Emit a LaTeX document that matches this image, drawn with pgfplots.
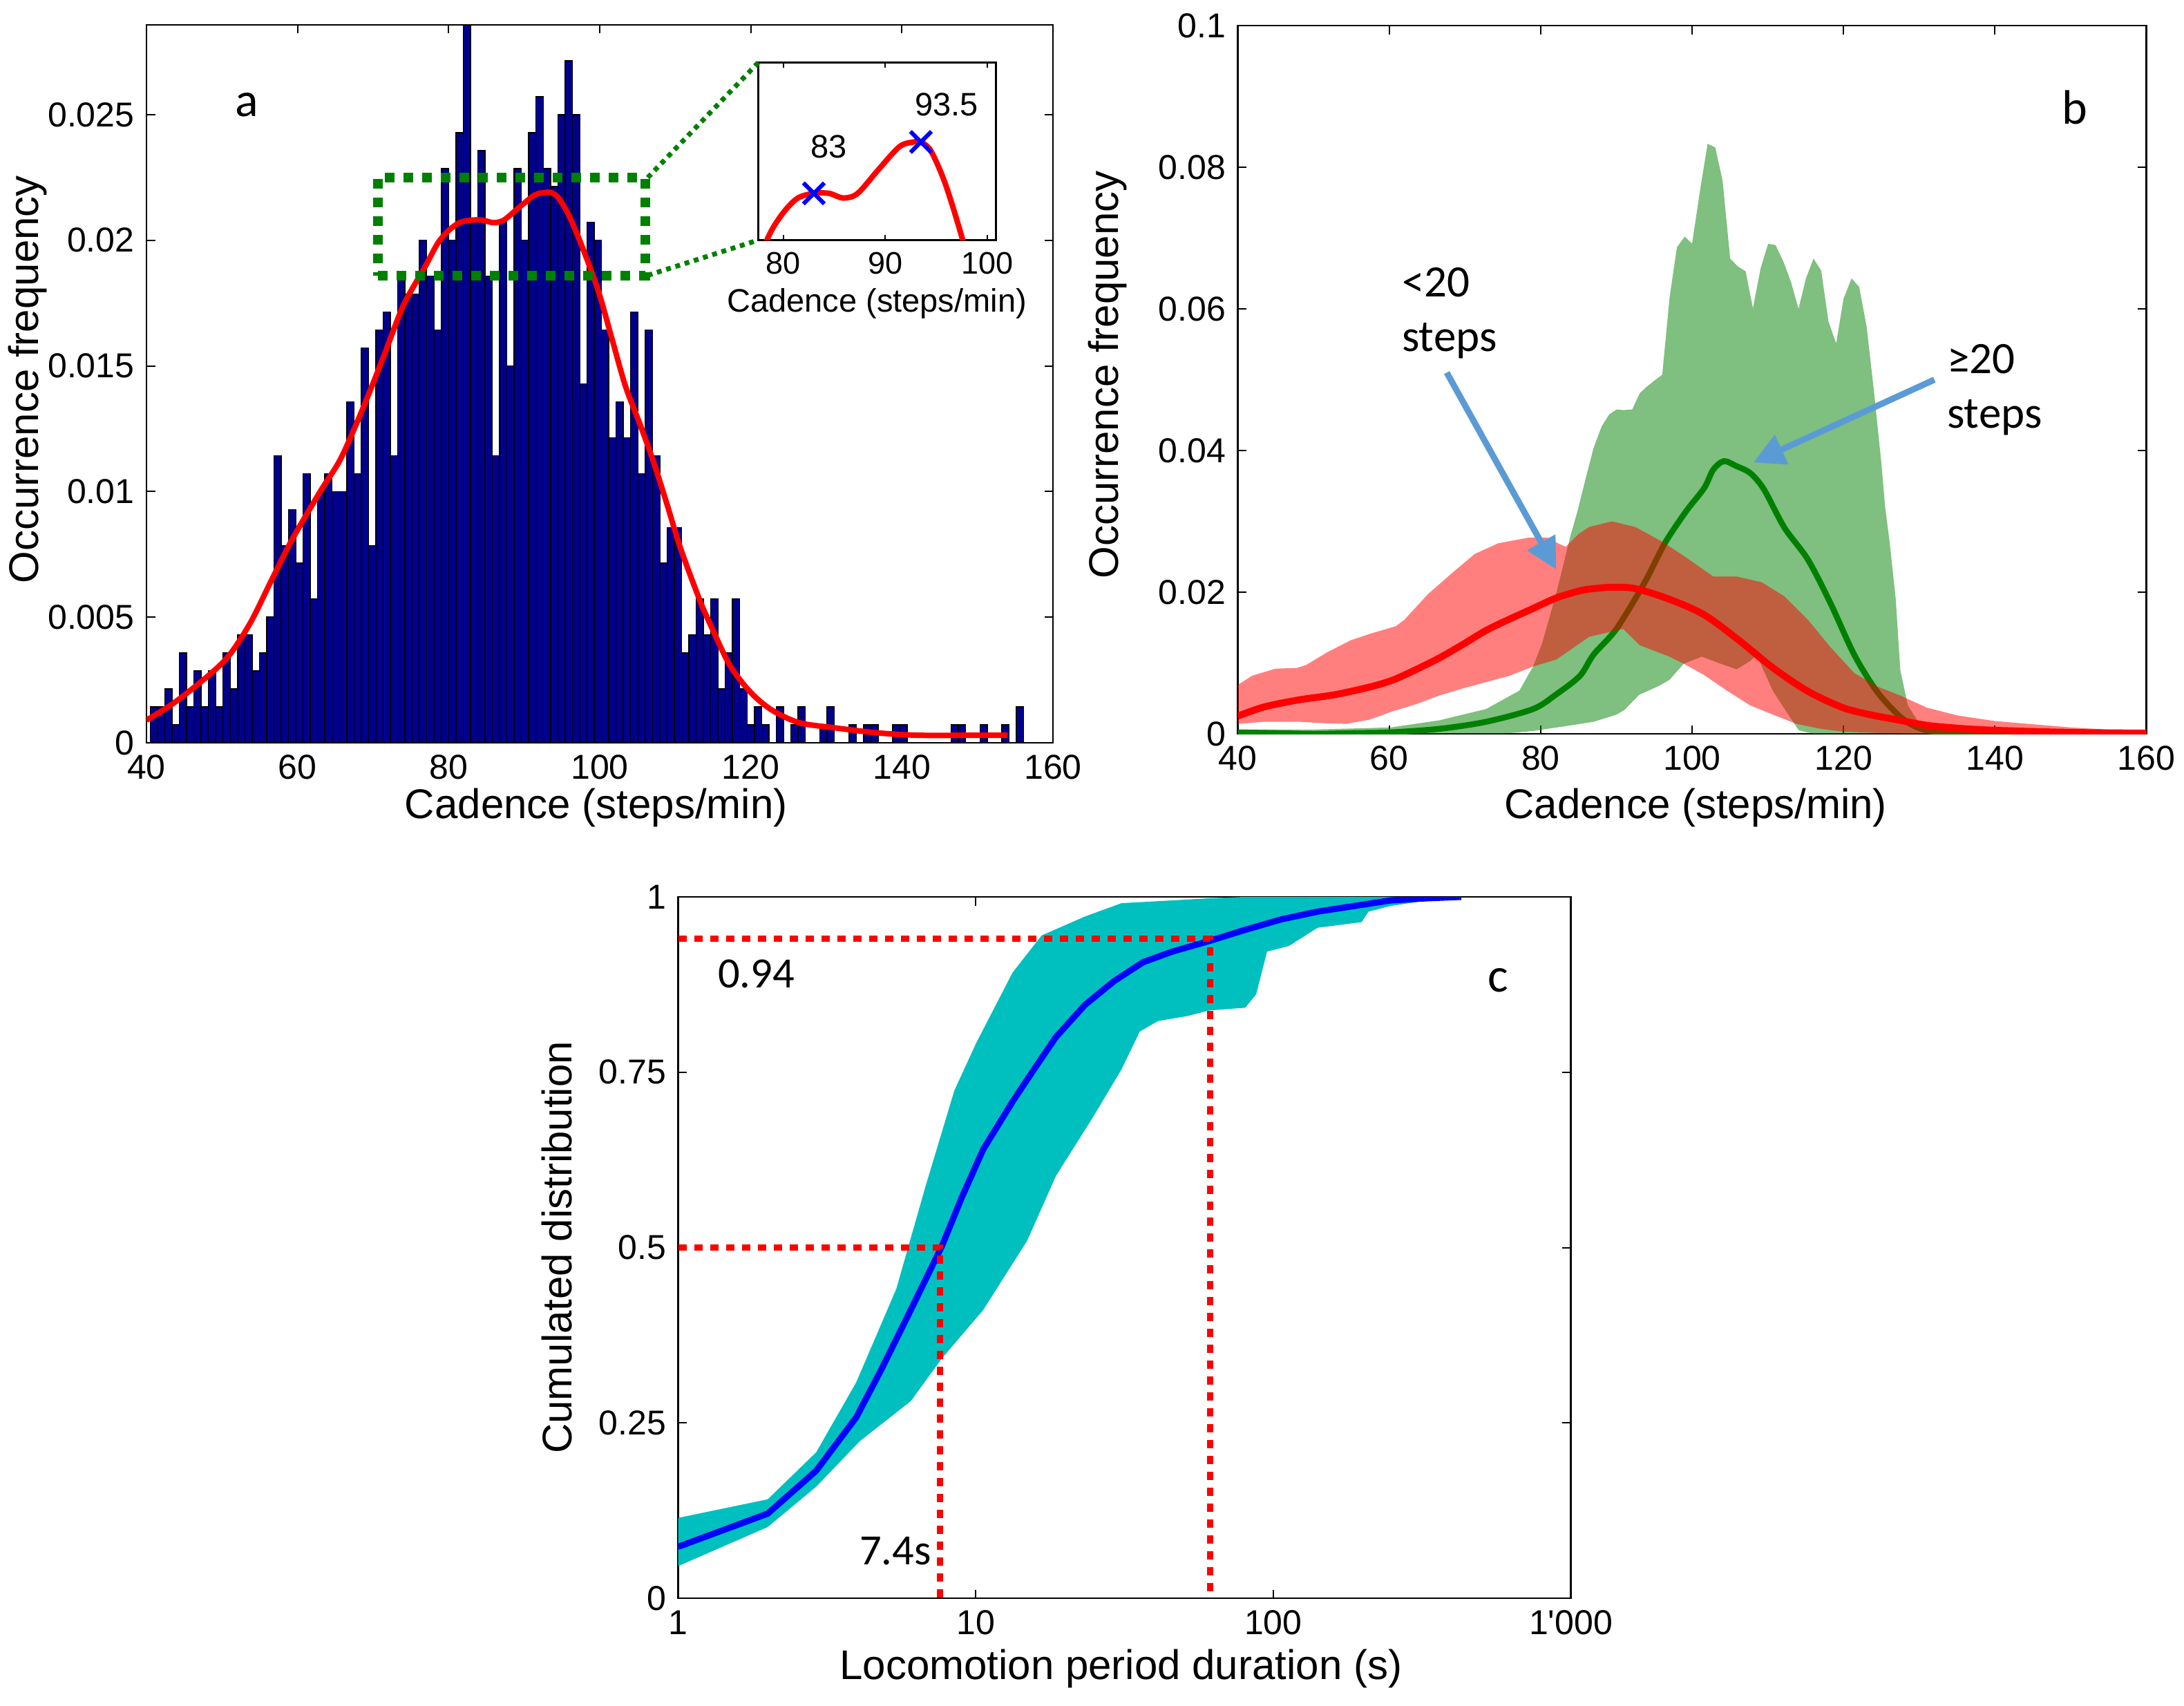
\documentclass[border=0pt]{standalone}
\usepackage{fontspec}
\setmainfont{Liberation Sans}
\newfontfamily\calfont{Carlito}
\usepackage{pgfplots}
\pgfplotsset{compat=1.18}
\usetikzlibrary{arrows.meta}
\definecolor{hbar}{RGB}{0,0,140}
\definecolor{mgreen}{RGB}{0,128,0}
\definecolor{arrowblue}{RGB}{91,155,213}
\definecolor{cyanband}{RGB}{0,191,191}
\pgfplotsset{mat/.style={scale only axis, anchor=south west, tick align=inside,
  scaled x ticks=false, scaled y ticks=false,
  major tick length=2.5pt, minor tick length=1.5pt,
  axis line style={black, line width=0.5pt},
  every tick/.append style={black, line width=0.4pt},
  tick label style={font=\fontsize{10}{12}\selectfont},
  label style={font=\fontsize{12}{14}\selectfont}}}
\begin{document}
\begin{tikzpicture}
\path[use as bounding box] (0,0) rectangle (632.2pt,493.6pt);

% ---------------- panel a ----------------
\begin{axis}[mat, at={(42.4pt,278.6pt)}, width=262.4pt, height=207.8pt,
  xmin=40, xmax=160, ymin=0, ymax=0.028571,
  xtick={40,60,80,100,120,140,160}, xticklabels={40,60,80,100,120,140,160},
  ytick={0,0.005,0.01,0.015,0.02,0.025}, yticklabels={0,0.005,0.01,0.015,0.02,0.025},
  xlabel={Cadence (steps/min)}, ylabel={Occurrence frequency},
  xlabel style={at={(axis description cs:0.496,-0.0905)},anchor=center},
  ylabel style={at={(axis description cs:-0.131,0.506)},anchor=center}]
\addplot[ybar interval, fill=hbar, draw=black, line width=0.3pt] coordinates {
(40.490,0.001429)(41.454,0.001429)(42.417,0.002143)(43.381,0.000714)(44.344,0.003571)
(45.308,0.001429)(46.272,0.002857)(47.235,0.001429)(48.199,0.002857)(49.162,0.001429)
(50.126,0.003571)(51.090,0.002143)(52.053,0.004286)(53.017,0.004286)(53.980,0.002857)
(54.944,0.003571)(55.908,0.005)(56.871,0.011429)(57.835,0.007857)(58.798,0.009286)
(59.762,0.007143)(60.726,0.010714)(61.689,0.005714)(62.653,0.01)(63.616,0.010714)
(64.580,0.01)(65.544,0.01)(66.507,0.013571)(67.471,0.010714)(68.434,0.015714)
(69.398,0.007857)(70.362,0.016429)(71.325,0.017143)(72.289,0.011429)(73.252,0.018571)
(74.216,0.017857)(75.180,0.017857)(76.143,0.02)(77.107,0.018571)(78.070,0.016429)
(79.034,0.022857)(79.998,0.02)(80.961,0.024286)(81.925,0.028571)(82.888,0.020714)
(83.852,0.023571)(84.816,0.018571)(85.779,0.011429)(86.743,0.020714)(87.706,0.015)
(88.670,0.022857)(89.634,0.02)(90.597,0.024286)(91.561,0.025714)(92.524,0.022857)
(93.488,0.022143)(94.452,0.025)(95.415,0.027143)(96.379,0.025)(97.342,0.014286)
(98.306,0.020714)(99.270,0.02)(100.233,0.016429)(101.197,0.012143)(102.160,0.013571)
(103.124,0.012143)(104.088,0.017143)(105.051,0.010714)(106.015,0.016429)(106.978,0.011429)
(107.942,0.007143)(108.906,0.008571)(109.869,0.008571)(110.833,0.003571)(111.796,0.004286)
(112.760,0.005714)(113.724,0.004286)(114.687,0.005714)(115.651,0.002143)(116.614,0.003571)
(117.578,0.005714)(118.542,0.002143)(119.505,0.000714)(120.469,0.001429)(121.432,0.000714)
(122.396,0)(123.360,0.001429)(124.323,0)(125.287,0.000714)(126.250,0.001429)
(127.214,0)(128.178,0)(129.141,0.000714)(130.105,0.001429)(131.068,0)
(132.032,0)(132.996,0.000714)(133.959,0)(134.923,0.000714)(135.886,0.000714)
(136.850,0)(137.814,0)(138.777,0.000714)(139.741,0.000714)(140.704,0)
(141.668,0)(142.632,0)(143.595,0)(144.559,0)(145.522,0)
(146.486,0.000714)(147.450,0.000714)(148.413,0)(149.377,0)(150.340,0.000714)
(151.304,0)(152.268,0)(153.231,0.000714)(154.195,0)(155.158,0.001429)(156.122,0)};
\addplot[red, line width=1.6pt, smooth] coordinates {
(40,0.0009)(43.7,0.0016)(48.3,0.0027)(51,0.0035)(53.8,0.0048)(56.6,0.0065)(59.3,0.0081)
(63,0.0100)(65.7,0.0113)(68.5,0.0132)(71.3,0.0153)(74,0.0174)(76.8,0.0189)(78.6,0.0199)
(80.05,0.0204)(81.43,0.0207)(83,0.0208)(84.5,0.0208)(85.9,0.0207)(87.3,0.0208)(89.3,0.0213)
(91.4,0.0218)(92.8,0.0219)(93.5,0.0219)(94.5,0.0217)(95.9,0.0210)(97.6,0.0198)(99.8,0.0180)
(101.6,0.0161)(103.4,0.0142)(105.3,0.0127)(107.1,0.0112)(108.9,0.0095)(110.3,0.0081)
(111.7,0.0069)(113.6,0.0054)(114.5,0.0048)(117.2,0.0031)(120,0.0020)(122.8,0.0013)
(126.4,0.0008)(131,0.0006)(136.6,0.0004)(142.1,0.0003)(149.4,0.0003)(154,0.0003)};
\addplot[mgreen, line width=2.8pt, dash pattern=on 2.8pt off 2.6pt] coordinates {
(70.6,0.0186)(106,0.0186)(106,0.0225)(70.6,0.0225)(70.6,0.0186)};
\node[font=\calfont\fontsize{14}{16}\selectfont] at (axis cs:53.3,0.0254) {a};
\end{axis}

% ---------------- inset ----------------
\begin{axis}[mat, at={(219.5pt,424.1pt)}, width=68.8pt, height=51.4pt,
  xmin=77.55, xmax=100.86, ymin=0.0198, ymax=0.0236,
  xtick={80,90,100}, xticklabels={80,90,100}, ytick=\empty,
  major tick length=1.5pt,
  tick label style={font=\fontsize{9}{11}\selectfont},
  xlabel={Cadence (steps/min)},
  xlabel style={font=\fontsize{9.4}{11}\selectfont, at={(axis description cs:0.499,-0.356)}, anchor=center},
  axis background/.style={fill=white}]
\addplot[red, line width=1.6pt, smooth] coordinates {
(76.8,0.0189)(78.6,0.0199)(80.05,0.0204)(81.43,0.0207)(83,0.0208)(84.5,0.0208)(85.9,0.0207)
(87.3,0.0208)(89.3,0.0213)(91.4,0.0218)(92.8,0.0219)(93.5,0.0219)(94.5,0.0217)(95.9,0.0210)
(97.6,0.0198)(99.8,0.0180)};
\addplot[only marks, mark=x, blue, mark size=4.3pt, line width=1.2pt] coordinates {(83,0.0208)(93.5,0.0219)};
\node[font=\fontsize{9.4}{11}\selectfont] at (axis cs:84.45,0.0218) {83};
\node[font=\fontsize{9.4}{11}\selectfont] at (axis cs:96,0.0227) {93.5};
\end{axis}
\draw[mgreen, line width=1.4pt, dash pattern=on 1.4pt off 1.4pt] (187.5pt,442.2pt) -- (219.5pt,475.5pt);
\draw[mgreen, line width=1.4pt, dash pattern=on 1.4pt off 1.4pt] (187.5pt,413.9pt) -- (219.5pt,424.1pt);

% ---------------- panel b ----------------
\begin{axis}[mat, at={(358.3pt,281.2pt)}, width=263pt, height=205pt,
  xmin=40, xmax=160, ymin=0, ymax=0.1,
  xtick={40,60,80,100,120,140,160}, xticklabels={40,60,80,100,120,140,160},
  ytick={0,0.02,0.04,0.06,0.08,0.1}, yticklabels={0,0.02,0.04,0.06,0.08,0.1},
  xlabel={Cadence (steps/min)}, ylabel={Occurrence frequency},
  xlabel style={at={(axis description cs:0.504,-0.104)},anchor=center},
  ylabel style={at={(axis description cs:-0.1435,0.507)},anchor=center}]
\addplot[fill=mgreen, fill opacity=0.5, draw=none] coordinates {
(40,0.0006)(50,0.0006)(60.2,0.0009)(66.6,0.0019)(72.8,0.0035)(77.2,0.0061)(79,0.0095)
(80.2,0.0128)(82.1,0.02)(84,0.0282)(84.86,0.0314)(86.08,0.0366)(87,0.0404)(88.06,0.0434)
(89.06,0.0451)(90.04,0.0458)(90.95,0.0457)(92.1,0.0458)(93.1,0.0481)(94,0.049)(95.06,0.0499)
(96.06,0.0507)(97.04,0.0617)(98,0.0687)(99.04,0.0702)(100,0.0692)(101.05,0.0767)(102.05,0.0833)
(103.06,0.0828)(104.03,0.0781)(105.03,0.0671)(106.03,0.066)(107.07,0.0653)(108.04,0.0601)
(109.05,0.0657)(110.05,0.0692)(111.03,0.069)(112.09,0.0666)(113.06,0.0638)(114.06,0.06)
(115.04,0.0643)(116.04,0.0671)(117.05,0.0654)(118.02,0.0582)(119.03,0.0551)(120,0.0614)
(121.06,0.0643)(122.07,0.0631)(123.05,0.0575)(124.01,0.0485)(125.02,0.038)(125.5,0.032)
(126.1,0.027)(126.9,0.019)(127.5,0.009)(128.5,0.004)(130,0.0015)(132,0.0005)(135,0.0002)
(140,0.0001)(160,0)
(160,0)(116,0)(114.1,0.0005)(112.9,0.0024)(110.7,0.006)(108.8,0.0105)(108.3,0.0109)
(107.7,0.0103)(105.9,0.0091)(103.5,0.0100)(101.3,0.0109)(98.9,0.0099)(97,0.0076)(95.5,0.0067)
(93,0.0055)(91.1,0.0034)(90,0.0027)(87,0.0017)(84,0.0012)(79,0.0004)(75,0)(40,0)};
\addplot[mgreen, line width=1.7pt, smooth] coordinates {
(40,0.0002)(45,0.0001)(50,0)(55,0.0001)(60,0.0002)(66.6,0.0007)(72.8,0.0017)(79,0.0035)
(82.1,0.0056)(85.2,0.0082)(87,0.0112)(90,0.0148)(93.7,0.0213)(96.4,0.0269)(99.2,0.0314)
(101.6,0.0347)(102.8,0.0373)(104.2,0.0385)(105.85,0.0378)(107.7,0.0368)(109.5,0.0345)
(112.2,0.0291)(115.3,0.0246)(118.3,0.0184)(121.4,0.0112)(124.4,0.006)(127.5,0.0024)
(130,0.0008)(133,0.0002)(140,0.0001)(160,0)};
\addplot[fill=red, fill opacity=0.5, draw=none] coordinates {
(40,0.0069)(41.9,0.0082)(45,0.0092)(47.8,0.0093)(49,0.0097)(51.8,0.0115)(54.9,0.0132)
(57.4,0.0141)(60.9,0.0152)(62,0.0161)(65.1,0.0197)(68.2,0.0226)(71.3,0.0254)(74.4,0.0269)
(78.4,0.0277)(80.9,0.0277)(82.1,0.027)(83.3,0.0264)(85,0.0282)(86.4,0.0292)(89.4,0.03)
(92.5,0.0292)(96.1,0.0271)(99.2,0.0249)(102.8,0.0222)(105.9,0.0222)(109.2,0.0214)
(112.2,0.0194)(115.3,0.0161)(118.3,0.0122)(121.4,0.0086)(124.4,0.0067)(127.5,0.0054)
(131,0.0037)(135,0.0026)(140,0.0018)(150,0.0009)(160,0.0003)
(160,0)(130,0)(125,0.0001)(120,0.0003)(117,0.0007)(113.8,0.0014)(110.7,0.0027)(107.7,0.004)
(104.6,0.0061)(101.6,0.0083)(98.9,0.0099)(97,0.0109)(93.1,0.0125)(90.9,0.0148)(86.4,0.0137)
(82.1,0.0105)(79,0.0095)(75.9,0.0082)(72.8,0.0073)(69.7,0.0064)(66.6,0.0054)(63.6,0.0042)
(60.5,0.0032)(57.4,0.002)(54.3,0.0014)(51.2,0.0015)(48.1,0.0017)(43.5,0.0017)(40,0.0014)};
\addplot[red, line width=2pt, smooth] coordinates {
(40,0.0025)(43.5,0.0038)(48.1,0.0048)(52.7,0.0055)(57.4,0.0066)(60.5,0.0076)(63.6,0.0091)
(66.6,0.0107)(69.7,0.0126)(72.8,0.0146)(75.9,0.0162)(79,0.0177)(82.1,0.0192)(85.2,0.0202)
(87,0.0205)(89.5,0.0207)(92.5,0.0205)(97,0.019)(101.6,0.0168)(106.2,0.0132)(110.7,0.0093)
(115.3,0.006)(119.9,0.0037)(123.5,0.0027)(127.5,0.0019)(131,0.0012)(135,0.0008)(140,0.0005)
(150,0.0002)(160,0.0001)};
\draw[arrowblue, line width=1.8pt, -{Triangle[length=9pt,width=9pt]}] (axis cs:67.6,0.051) -- (axis cs:82.06,0.0232);
\draw[arrowblue, line width=1.8pt, -{Triangle[length=9pt,width=9pt]}] (axis cs:132,0.05) -- (axis cs:108.1,0.0383);
\node[font=\calfont\fontsize{13}{15}\selectfont, anchor=west, inner sep=0pt] at (axis cs:61.6,0.0637) {<20};
\node[font=\calfont\fontsize{13}{15}\selectfont, anchor=west, inner sep=0pt] at (axis cs:61.6,0.0555) {steps};
\node[font=\calfont\fontsize{13}{15}\selectfont, anchor=west, inner sep=0pt] at (axis cs:133.6,0.0529) {≥20};
\node[font=\calfont\fontsize{13}{15}\selectfont, anchor=west, inner sep=0pt] at (axis cs:133.6,0.0447) {steps};
\node[font=\calfont\fontsize{14}{16}\selectfont] at (axis cs:150.5,0.0884) {b};
\end{axis}

% ---------------- panel c ----------------
\begin{axis}[mat, at={(196.3pt,31pt)}, width=258.4pt, height=203pt,
  xmode=log, log basis x=10, xmin=1, xmax=1000, ymin=0, ymax=1,
  xtick={1,10,100,1000}, xticklabels={1,10,100,1\textquotesingle 000},
  ytick={0,0.25,0.5,0.75,1}, yticklabels={0,0.25,0.5,0.75,1},
  xlabel={Locomotion period duration (s)}, ylabel={Cumulated distribution},
  xlabel style={at={(axis description cs:0.496,-0.1005)},anchor=center},
  ylabel style={at={(axis description cs:-0.136,0.5)},anchor=center}]
\addplot[fill=cyanband, draw=none] coordinates {
(1,0.1145)(2,0.141)(2.91,0.208)(3.97,0.308)(5.41,0.441)(6.77,0.586)(8.48,0.724)(10.05,0.792)
(13.3,0.892)(16.66,0.945)(23.3,0.972)(30.9,0.991)(45.8,0.995)(60.8,0.998)(80,1)(428,1)
(428,0.998)(328,0.995)(248,0.987)(209,0.979)(198,0.964)(141,0.956)(112.8,0.93)(95.3,0.922)
(87.6,0.861)(80.5,0.842)(60.8,0.838)(51.3,0.83)(41,0.823)(35.6,0.808)(30.9,0.754)(24.7,0.685)
(18.6,0.602)(14.9,0.51)(10.6,0.411)(7.7,0.342)(6.05,0.281)(4.08,0.224)(2.91,0.159)(2,0.1015)
(1,0.0458)};
\addplot[blue, line width=1.8pt] coordinates {
(1,0.0733)(2,0.1206)(2.91,0.1817)(3.97,0.258)(4.83,0.327)(6.05,0.411)(7.7,0.502)(8.97,0.571)
(10.6,0.64)(13.3,0.708)(15.7,0.754)(18.6,0.8)(23.3,0.846)(29.2,0.88)(36.6,0.907)(45.8,0.922)
(60.8,0.937)(80.5,0.953)(106.6,0.968)(141,0.979)(187,0.987)(248,0.995)(328,0.998)(428,1)};
\addplot[red, line width=1.8pt, dash pattern=on 2.4pt off 2.2pt] coordinates {(1,0.94)(61.4,0.94)(61.4,0)};
\addplot[red, line width=1.8pt, dash pattern=on 2.4pt off 2.2pt] coordinates {(1,0.5)(7.6,0.5)(7.6,0)};
\node[font=\calfont\fontsize{12.5}{14}\selectfont] at (axis cs:1.83,0.89) {0.94};
\node[font=\calfont\fontsize{12.5}{14}\selectfont] at (axis cs:5.37,0.067) {7.4s};
\node[font=\calfont\fontsize{14}{16}\selectfont] at (axis cs:570,0.881) {c};
\end{axis}
\end{tikzpicture}
\end{document}
